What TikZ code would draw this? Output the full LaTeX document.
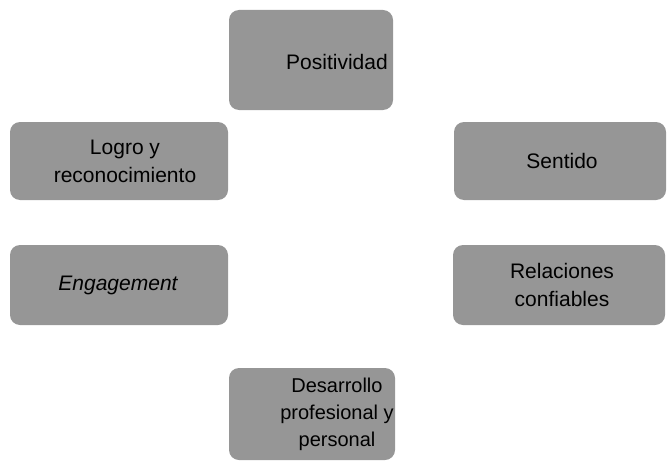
\documentclass[tikz,border=0pt]{standalone}
\usepackage{fontspec}
\setmainfont{Liberation Sans}
\definecolor{boxgray}{RGB}{150,150,150}
\begin{document}
\begin{tikzpicture}[x=1pt,y=-1pt,
  card/.style={draw=none,fill=boxgray,rounded corners=10pt,inner sep=0pt},
  cardtext/.style={align=center,font=\fontsize{21}{28}\selectfont,text=black,inner sep=0pt}]
\useasboundingbox (0,0) rectangle (668,468);
\node[card,minimum width=164pt,minimum height=100pt] (pos) at (311,60) {};
\node[cardtext] (posT) at ([xshift=26pt,yshift=-2pt]pos.center) {Positividad};
\node[card,minimum width=218pt,minimum height=78pt] (log) at (119,161) {};
\node[cardtext] (logT) at ([xshift=6pt]log.center) {Logro y\\reconocimiento};
\node[card,minimum width=212pt,minimum height=78pt] (sen) at (560,161) {};
\node[cardtext] (senT) at ([xshift=2pt]sen.center) {Sentido};
\node[card,minimum width=218pt,minimum height=80pt] (eng) at (119,285) {};
\node[cardtext] (engT) at ([xshift=-1pt]eng.center) {\itshape Engagement};
\node[card,minimum width=212pt,minimum height=80pt] (rel) at (559,285) {};
\node[cardtext] (relT) at ([xshift=3pt]rel.center) {Relaciones\\confiables};
\node[card,minimum width=166pt,minimum height=92pt] (des) at (312,414) {};
\node[cardtext,font=\fontsize{20}{27}\selectfont] (desT) at ([xshift=25pt]des.center) {Desarrollo\\profesional y\\personal};
\end{tikzpicture}
\end{document}
